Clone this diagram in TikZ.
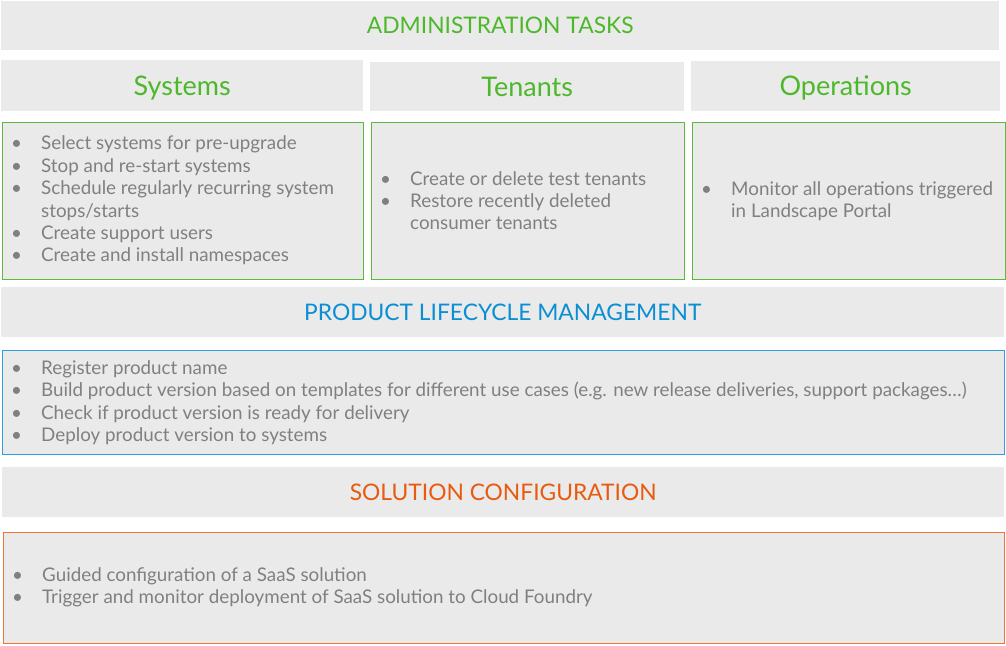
\documentclass[tikz,border=0pt]{standalone}
\usepackage{fontspec}
\setmainfont{Lato}
\definecolor{bggray}{HTML}{EAEAEA}
\definecolor{txtgray}{HTML}{808080}
\definecolor{sapgreen}{HTML}{4CB82A}
\definecolor{greenline}{HTML}{5CBA3C}
\definecolor{sapblue}{HTML}{0A8FD4}
\definecolor{blueline}{HTML}{2AA1DE}
\definecolor{saporange}{HTML}{E85A0F}
\definecolor{orgline}{HTML}{EE7536}
\newcommand{\bul}{\makebox[30pt][l]{•}}
\newcommand{\cnt}{\hspace*{30pt}}
\begin{document}
\begin{tikzpicture}[x=1pt,y=-1pt,
  hdr/.style={fill=bggray, draw=none, anchor=north west, inner sep=0pt, text depth=0pt},
  title/.style={hdr, text height=16.4pt, font=\fontsize{22.8}{26}\selectfont},
  subhdr/.style={hdr, text height=19.4pt, text=sapgreen, font=\fontsize{27}{30}\selectfont},
  panel/.style={fill=bggray, line width=1.1pt, anchor=north west, inner sep=0pt},
  items/.style={anchor=west, inner sep=0pt, align=left, text=txtgray, font=\fontsize{18.8}{22.4}\selectfont}]
\useasboundingbox (0,0) rectangle (1006,645);
% Administration tasks
\node[title, text=sapgreen, minimum width=998, minimum height=49] (admhdr) at (1,1) {ADMINISTRATION TASKS};
\node[subhdr, minimum width=362, minimum height=51] (syshdr) at (1,60) {Systems};
\node[subhdr, minimum width=314, minimum height=49] (tenhdr) at (370,62) {Tenants};
\node[subhdr, minimum width=309, minimum height=50] (ophdr) at (691,61) {Operations};
\node[panel, draw=greenline, minimum width=361, minimum height=157] (sysbox) at (1.5,121.5) {};
\node[panel, draw=greenline, minimum width=313, minimum height=157] (tenbox) at (370.5,121.5) {};
\node[panel, draw=greenline, minimum width=313, minimum height=157] (opbox) at (691.5,122) {};
\node[items] (systxt) at ([xshift=9.5pt]sysbox.west) {\bul Select systems for pre-upgrade\\ \bul Stop and re-start systems\\ \bul Schedule regularly recurring system\\ \cnt stops/starts\\ \bul Create support users\\ \bul Create and install namespaces};
\node[items] (tentxt) at ([xshift=9.5pt]tenbox.west) {\bul Create or delete test tenants\\ \bul Restore recently deleted\\ \cnt consumer tenants};
\node[items] (optxt) at ([xshift=9.5pt]opbox.west) {\bul Monitor all operations triggered\\ \cnt in Landscape Portal};
% Product lifecycle management
\node[title, text=sapblue, minimum width=1003, minimum height=50] (plmhdr) at (1,287) {PRODUCT LIFECYCLE MANAGEMENT};
\node[panel, draw=blueline, minimum width=1002, minimum height=104] (plmbox) at (1.5,350) {};
\node[items] (plmtxt) at ([xshift=9.5pt]plmbox.west) {\bul Register product name\\ \bul Build product version based on templates for different use cases (e.g. new release deliveries, support packages…)\\ \bul Check if product version is ready for delivery\\ \bul Deploy product version to systems};
% Solution configuration
\node[title, text=saporange, minimum width=1002, minimum height=50] (schdr) at (2,467) {SOLUTION CONFIGURATION};
\node[panel, draw=orgline, minimum width=1001, minimum height=111] (scbox) at (2.5,531.5) {};
\node[items] (sctxt) at ([xshift=9.5pt]scbox.west) {\bul Guided configuration of a SaaS solution\\ \bul Trigger and monitor deployment of SaaS solution to Cloud Foundry};
\end{tikzpicture}
\end{document}
